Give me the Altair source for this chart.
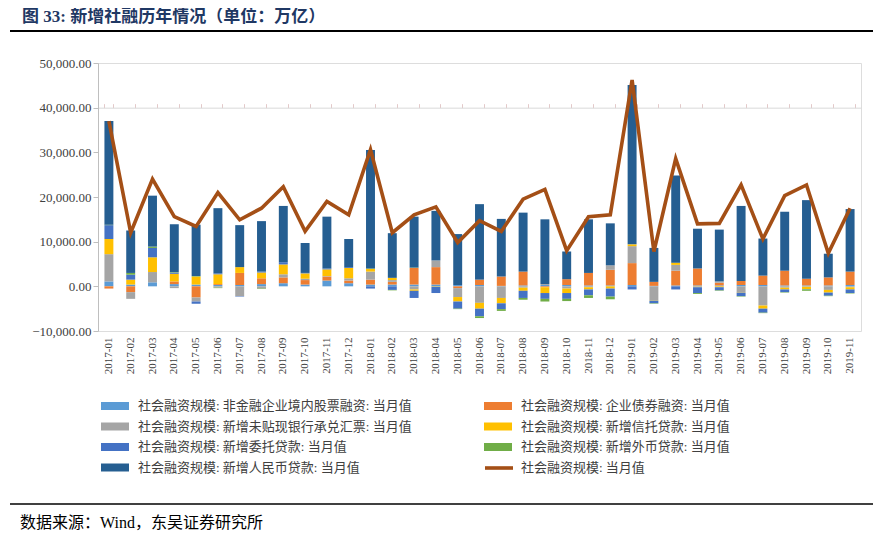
import altair as alt
import pandas as pd

months = ["2017-01", "2017-02", "2017-03", "2017-04", "2017-05", "2017-06", "2017-07", "2017-08",
          "2017-09", "2017-10", "2017-11", "2017-12", "2018-01", "2018-02", "2018-03", "2018-04",
          "2018-05", "2018-06", "2018-07", "2018-08", "2018-09", "2018-10", "2018-11", "2018-12",
          "2019-01", "2019-02", "2019-03", "2019-04", "2019-05", "2019-06", "2019-07", "2019-08",
          "2019-09", "2019-10", "2019-11"]

equity = [1100, 400, 900, 500, 400, 300, 300, 500, 700, 400, 1300, 700,
          400, 400, 400, 400, 300, 300, 100, 200, 300, 300, 200, 200,
          300, 100, 200, 200, 200, 300, 300, 200, 200, 200, 300]
bond = [-500, -1300, 0, 600, -2500, 200, 2700, 1300, 1300, 1000, 900, 600,
        1100, 600, 3700, 3900, -400, 1200, 2100, 3100, -200, 1300, 2800, 3500,
        4900, 900, 3300, 3800, 600, 900, 2100, 3300, 1500, 1800, 3000]
bills = [6100, -1500, 2300, -400, -900, -300, -2200, -500, 700, 300, 100, 500,
         1800, 400, -700, 1500, -2000, -3700, -2600, -300, 200, -500, -200, 1000,
         3800, -3100, 1300, -100, 300, -1300, -4300, -300, -100, -800, -200]
trust = [3400, 1100, 3300, 1700, 1800, 2200, 1300, 1300, 2200, 1200, 1500, 2300,
         600, 500, -300, -100, -1000, -1300, -1200, -700, -1300, -1000, -500, -500,
         400, -100, 500, -100, -200, -100, -700, -400, -500, -600, -500]
entrusted = [3100, 1100, 2100, 300, -500, 200, -100, 200, 500, 100, 200, 200,
             -500, -800, -1600, -1400, -1600, -1700, -1300, -1600, -1300, -1300, -1300, -1800,
             -700, -600, -700, -1300, -700, -800, -900, -600, -100, -700, -800]
foreign = [100, 400, 300, 100, 100, -100, 0, -100, 0, 0, 0, 0,
           100, -100, 100, 0, -100, -400, -400, -400, -600, -500, -600, -600,
           0, -100, 0, -200, -100, -100, -100, -100, -300, -100, -100]
rmb = [23200, 9500, 11400, 10700, 11500, 14600, 9400, 11300, 12600, 6700, 11600, 6300,
       26500, 10000, 11400, 11100, 11400, 16900, 12900, 13200, 14500, 6200, 12000, 9400,
       35700, 7600, 19500, 8900, 11600, 16800, 8300, 13200, 17600, 5300, 14000]
total = [37000, 12000, 24000, 15600, 13400, 21000, 14900, 17500, 22300, 12300, 19000, 16000,
         30600, 12000, 16000, 17800, 9800, 14700, 12300, 19500, 21700, 8000, 15600, 16000,
         46200, 7800, 28600, 14000, 14100, 22700, 10600, 20300, 22700, 7400, 17500]

series_names = [
    "社会融资规模: 非金融企业境内股票融资: 当月值",
    "社会融资规模: 企业债券融资: 当月值",
    "社会融资规模: 新增未贴现银行承兑汇票: 当月值",
    "社会融资规模: 新增信托贷款: 当月值",
    "社会融资规模: 新增委托贷款: 当月值",
    "社会融资规模: 新增外币贷款: 当月值",
    "社会融资规模: 新增人民币贷款: 当月值",
]
series_colors = ["#5B9BD5", "#ED7D31", "#A5A5A5", "#FFC000", "#4472C4", "#70AD47", "#255E91"]
total_name = "社会融资规模: 当月值"
total_color = "#A44F16"

y_ticks = [-10000, 0, 10000, 20000, 30000, 40000, 50000]
TITLE = "图 33:  新增社融历年情况（单位：万亿）"
SOURCE = "数据来源：Wind，东吴证券研究所"

SERIF = "Liberation Serif"
CJK = "Liberation Serif, Noto Sans CJK SC"

rows = []
for i, (name, vals) in enumerate(zip(series_names, [equity, bond, bills, trust, entrusted, foreign, rmb])):
    for m, v in zip(months, vals):
        rows.append({"month": m, "series": name, "order": i, "value": v})
bars_df = pd.DataFrame(rows)
line_df = pd.DataFrame({"month": months, "series": total_name, "value": total})

color_scale = alt.Scale(domain=series_names, range=series_colors)
y_scale = alt.Scale(domain=[-10000, 50000], nice=False)
x_scale = alt.Scale(paddingInner=0.59)

RECT = "M-1.75,-0.5H1.75V0.5H-1.75Z"

bar_legend = alt.Legend(
    title=None, orient="none", legendX=2, legendY=334, columns=2, direction="horizontal",
    columnPadding=71, rowPadding=4.5, symbolSize=256, symbolType=RECT, symbolOffset=6,
    labelOffset=14, labelFont=CJK, labelFontSize=13, labelColor="#404040", labelLimit=600,
)
line_legend = alt.Legend(
    title=None, orient="none", legendX=385, legendY=389, symbolType="stroke",
    symbolSize=784, symbolStrokeWidth=3.6, labelOffset=6,
    labelFont=CJK, labelFontSize=13, labelColor="#404040", labelLimit=600,
)

bars = alt.Chart(bars_df).mark_bar().encode(
    x=alt.X("month:N", sort=months, scale=x_scale,
            axis=alt.Axis(title=None, labelAngle=270, labelFont=SERIF, labelFontSize=11,
                          labelColor="#404040", domain=False, ticks=False, labelPadding=6)),
    y=alt.Y("value:Q", stack="zero", scale=y_scale,
            axis=alt.Axis(title=None, values=y_ticks, format=",.2f", labelFont=SERIF, labelFontSize=13,
                          labelColor="#404040", domainColor="#BFBFBF", tickColor="#BFBFBF",
                          tickSize=5, grid=False, labelPadding=2)),
    color=alt.Color("series:N", scale=color_scale, legend=bar_legend),
    order=alt.Order("order:Q", sort="ascending"),
)

line = alt.Chart(line_df).mark_line(strokeWidth=3.6, strokeJoin="miter").encode(
    x=alt.X("month:N", sort=months, scale=x_scale,
            axis=alt.Axis(title=None, labels=False, domain=True, domainColor="#D9D9D9",
                          ticks=True, tickColor="#E3C9C9", tickSize=4, tickBand="extent",
                          offset=-44.67)),
    y=alt.Y("value:Q", scale=y_scale),
    stroke=alt.Stroke("series:N", scale=alt.Scale(domain=[total_name], range=[total_color]),
                      legend=line_legend),
)

title_txt = alt.Chart(pd.DataFrame({"t": [TITLE]})).mark_text(
    align="left", baseline="middle", font=CJK, fontSize=17, fontWeight="bold", color="#1F3864"
).encode(text="t:N", x=alt.value(-76), y=alt.value(-46))

source_txt = alt.Chart(pd.DataFrame({"t": [SOURCE]})).mark_text(
    align="left", baseline="middle", font=CJK, fontSize=16, color="#000000"
).encode(text="t:N", x=alt.value(-78), y=alt.value(460))

top_rule = alt.Chart(pd.DataFrame({"a": [0]})).mark_rule(color="#000000", strokeWidth=2).encode(
    x=alt.value(-88), x2=alt.value(780), y=alt.value(-32))
bottom_rule = alt.Chart(pd.DataFrame({"a": [0]})).mark_rule(color="#000000", strokeWidth=1.5).encode(
    x=alt.value(-88), x2=alt.value(780), y=alt.value(441))

chart = alt.layer(bars, line, title_txt, source_txt, top_rule, bottom_rule).resolve_axis(
    x="independent"
).properties(
    width=763, height=268,
    autosize=alt.AutoSizeParams(type="none"),
    padding={"left": 90, "top": 55, "right": 12, "bottom": 200},
).configure_view(stroke=None).configure(background="white")

chart.save("out.html", embed_options={"renderer": "svg", "actions": False})
